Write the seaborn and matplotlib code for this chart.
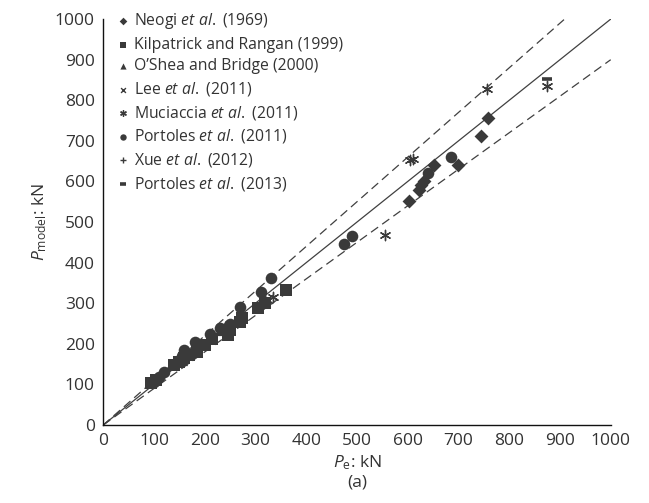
import matplotlib
matplotlib.use("Agg")
import matplotlib.pyplot as plt
import seaborn as sns
import numpy as np

# Test data: P_e (x) vs P_model (y), kN
neogi_x = [603, 622, 627, 633, 652, 700, 745, 758]
neogi_y = [553, 578, 592, 602, 640, 641, 713, 757]

kilpatrick_x = [95, 105, 140, 150, 160, 170, 185, 200, 215, 245, 250, 270, 273, 305, 318, 360]
kilpatrick_y = [103, 112, 147, 155, 165, 172, 180, 197, 212, 222, 235, 255, 263, 288, 300, 332]

oshea_x = [155, 230, 240]
oshea_y = [160, 235, 245]

lee_x = [160, 325]
lee_y = [168, 310]

muciaccia_x = [335, 555, 605, 610, 757, 875]
muciaccia_y = [315, 467, 652, 655, 828, 835]

portoles11_x = [100, 110, 120, 145, 155, 160, 180, 210, 230, 250, 270, 310, 330, 475, 490, 640, 685]
portoles11_y = [105, 118, 130, 155, 170, 185, 205, 225, 240, 248, 290, 328, 363, 445, 465, 620, 660]

xue_x = [100, 120]
xue_y = [110, 125]

portoles13_x = [875]
portoles13_y = [853]

ref_x = [0, 1000]

sns.set_style("white")
plt.rcParams["font.family"] = ["Open Sans", "DejaVu Sans"]
plt.rcParams["mathtext.fontset"] = "custom"
plt.rcParams["mathtext.rm"] = "Open Sans"
plt.rcParams["mathtext.it"] = "Open Sans:italic"

dark = "#3a3a3a"

fig = plt.figure(figsize=(6.49, 5.03), dpi=100)
ax = fig.add_axes([0.159, 0.155, 0.782, 0.807])

# 1:1 line and +/-10 % bounds
ax.plot(ref_x, [v * 1.0 for v in ref_x], color="#404040", lw=0.9, zorder=1)
ax.plot(ref_x, [v * 1.1 for v in ref_x], color="#404040", lw=0.9, ls=(0, (7, 4)), zorder=1)
ax.plot(ref_x, [v * 0.9 for v in ref_x], color="#404040", lw=0.9, ls=(0, (7, 4)), zorder=1)

series = [
    ("Neogi $\\mathit{et\\ al.}$ (1969)", neogi_x, neogi_y, "D", 50, True),
    ("Kilpatrick and Rangan (1999)", kilpatrick_x, kilpatrick_y, "s", 65, True),
    ("O\u2019Shea and Bridge (2000)", oshea_x, oshea_y, "^", 65, True),
    ("Lee $\\mathit{et\\ al.}$ (2011)", lee_x, lee_y, "x", 40, False),
    ("Muciaccia $\\mathit{et\\ al.}$ (2011)", muciaccia_x, muciaccia_y, (6, 2, 0), 55, False),
    ("Portoles $\\mathit{et\\ al.}$ (2011)", portoles11_x, portoles11_y, "o", 70, True),
    ("Xue $\\mathit{et\\ al.}$ (2012)", xue_x, xue_y, "+", 45, False),
    ("Portoles $\\mathit{et\\ al.}$ (2013)", portoles13_x, portoles13_y, "_", 50, False),
]

for label, xs, ys, mk, size, filled in series:
    if filled:
        sns.scatterplot(x=xs, y=ys, marker=mk, s=size, color=dark, edgecolor=dark,
                        linewidth=0, label=label, ax=ax, zorder=3)
    else:
        lw = 2.6 if mk == "_" else 1.0
        sns.scatterplot(x=xs, y=ys, marker=mk, s=size, color=dark,
                        linewidth=lw, label=label, ax=ax, zorder=3)

ax.set_xlim(0, 1000)
ax.set_ylim(0, 1000)
ax.set_xticks(np.arange(0, 1001, 100))
ax.set_yticks(np.arange(0, 1001, 100))
ax.tick_params(axis="both", direction="out", length=4, width=0.8, colors="#222222",
               labelsize=12.5, labelcolor="#333333", pad=2)
sns.despine(ax=ax)
for sp in ("left", "bottom"):
    ax.spines[sp].set_color("#111111")
    ax.spines[sp].set_linewidth(1.0)

ax.set_xlabel("$P_{\\mathrm{e}}$: kN\n(a)", fontsize=12.5, color="#333333", labelpad=3, linespacing=1.2)
ax.set_ylabel("$P_{\\mathrm{model}}$: kN", fontsize=12.5, color="#333333", labelpad=4)

leg = ax.legend(loc="upper left", bbox_to_anchor=(0.012, 1.035), frameon=False, fontsize=11.3,
                markerscale=0.55, handletextpad=0.15, labelspacing=0.36, borderaxespad=0,
                handlelength=1.0)
for t in leg.get_texts():
    t.set_color("#333333")

fig.savefig("out.png", dpi=100)
